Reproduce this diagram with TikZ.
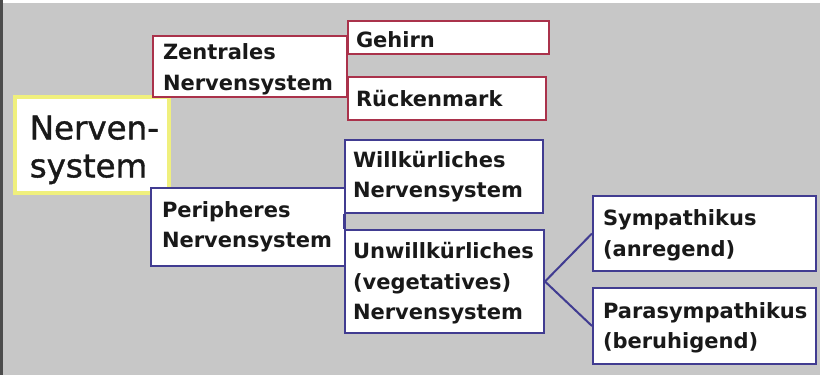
\documentclass[tikz,border=0pt]{standalone}
\usepackage{fontspec}
\setmainfont{DejaVu Sans}
\newfontfamily\boxfont{DejaVu Sans}
\newfontfamily\bigfont{DejaVu Sans}[FakeBold=1.2]
\definecolor{bggray}{RGB}{199,199,199}
\definecolor{nsred}{RGB}{170,50,75}
\definecolor{nsblue}{RGB}{65,60,145}
\definecolor{nsyellow}{RGB}{240,240,125}
\newcommand{\fl}[1]{\rule{0pt}{#1pt}}
\tikzset{
  box/.style={draw, fill=white, line width=2pt, rectangle, anchor=north west,
    align=left, inner ysep=0pt, inner xsep=0pt,
    font=\boxfont\bfseries\fontsize{21}{30.5}\selectfont, text=black!90},
  redbox/.style={box, draw=nsred},
  bluebox/.style={box, draw=nsblue},
  link/.style={line width=2pt},
}
\begin{document}
\begin{tikzpicture}[x=1pt,y=-1pt]
\useasboundingbox (0,0) rectangle (820,375);
\fill[bggray] (0,0) rectangle (820,375);
\fill[white] (0,0) rectangle (820,2.5);
\fill[black!70] (0,0) rectangle (2.5,375);
% root
\node[box, draw=nsyellow, line width=3.5pt, minimum width=154pt, minimum height=96pt,
      text width=154pt, font=\bigfont\fontsize{32.5}{38}\selectfont, text=black!90]
      (ns) at (13,95) {\hspace*{15pt}\fl{34}Nerven-\\\hspace*{15pt}system};
% central
\node[redbox, minimum width=194pt, minimum height=61pt, text width=194pt]
      (zns) at (152,35) {\hspace*{10pt}\fl{22}Zentrales\\\hspace*{10pt}Nervensystem};
\node[redbox, minimum width=201pt, minimum height=33pt, text width=201pt]
      (geh) at (347,20) {\hspace*{8pt}\fl{20}Gehirn};
\node[redbox, minimum width=198pt, minimum height=43pt, text width=198pt]
      (rm) at (347,76) {\hspace*{8pt}Rückenmark};
\draw[link, nsred] (geh.south west) -- (rm.north west);
% peripheral
\node[bluebox, minimum width=194pt, minimum height=78pt, text width=194pt]
      (pns) at (150,187) {\hspace*{11pt}Peripheres\\\hspace*{11pt}Nervensystem};
\node[bluebox, minimum width=198pt, minimum height=73pt, text width=198pt]
      (wns) at (344,139) {\hspace*{8pt}Willkürliches\\\hspace*{8pt}Nervensystem};
\node[bluebox, minimum width=199pt, minimum height=103pt, text width=199pt]
      (uns) at (344,229) {\hspace*{8pt}\fl{20}Unwillkürliches\\\hspace*{8pt}(vegetatives)\\\hspace*{8pt}Nervensystem};
\draw[link, nsblue] (wns.south west) -- (uns.north west);
\node[bluebox, minimum width=223pt, minimum height=75pt, text width=223pt]
      (sym) at (592,195) {\hspace*{10pt}\fl{20}Sympathikus\\\hspace*{10pt}(anregend)};
\node[bluebox, minimum width=223pt, minimum height=76pt, text width=223pt]
      (para) at (592,287) {\hspace*{10pt}\fl{20}Parasympathikus\\\hspace*{10pt}(beruhigend)};
\draw[link, nsblue] (sym.west) -- (uns.east) -- (para.west);
\end{tikzpicture}
\end{document}
